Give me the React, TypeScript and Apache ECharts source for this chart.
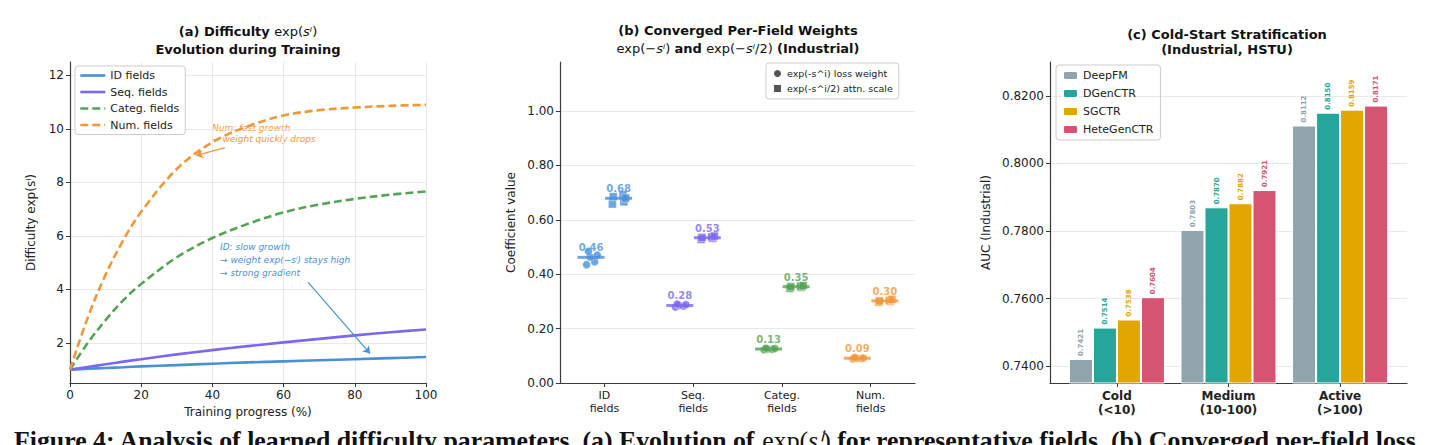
import React, { useEffect, useRef } from 'react';
import * as echarts from 'echarts';

// ---------- Panel (a) data ----------
const progress = [0, 5, 10, 15, 20, 30, 40, 50, 60, 70, 80, 90, 100];
const idDifficulty = [1.0, 1.03, 1.06, 1.09, 1.12, 1.17, 1.22, 1.27, 1.31, 1.35, 1.39, 1.43, 1.47];
const seqDifficulty = [1.0, 1.1, 1.2, 1.3, 1.39, 1.57, 1.73, 1.88, 2.02, 2.15, 2.28, 2.4, 2.5];
const categDifficulty = [1.0, 2.0, 2.85, 3.6, 4.2, 5.2, 5.92, 6.45, 6.88, 7.17, 7.38, 7.54, 7.66];
const numDifficulty = [1.0, 2.95, 4.55, 5.85, 6.9, 8.5, 9.5, 10.1, 10.5, 10.7, 10.8, 10.86, 10.9];
const difficultyTicks = [2, 4, 6, 8, 10, 12];

// ---------- Panel (b) data ----------
const fieldLabels = ['ID\nfields', 'Seq.\nfields', 'Categ.\nfields', 'Num.\nfields'];
const lossWeightMeans = [0.462, 0.285, 0.125, 0.091];
const attnScaleMeans = [0.679, 0.534, 0.354, 0.302];
const lossWeightSeeds = [
  [0.435, 0.446, 0.463, 0.47, 0.484],
  [0.279, 0.283, 0.286, 0.288, 0.29],
  [0.122, 0.124, 0.125, 0.127, 0.128],
  [0.088, 0.09, 0.091, 0.092, 0.094],
];
const attnScaleSeeds = [
  [0.658, 0.666, 0.685, 0.692, 0.68],
  [0.528, 0.532, 0.535, 0.537, 0.54],
  [0.348, 0.352, 0.354, 0.356, 0.358],
  [0.297, 0.3, 0.302, 0.304, 0.307],
];
const circleJitter = [-0.05, 0.04, -0.01, 0.07, -0.03];
const squareJitter = [-0.07, 0.06, -0.06, 0.05, 0.08];
const coefTicks = [0, 0.2, 0.4, 0.6, 0.8, 1.0];

// ---------- Panel (c) data ----------
const userGroups = ['Cold\n(<10)', 'Medium\n(10-100)', 'Active\n(>100)'];
const deepfmAuc = [0.7421, 0.7803, 0.8112];
const dgenctrAuc = [0.7514, 0.787, 0.815];
const sgctrAuc = [0.7538, 0.7882, 0.8159];
const heteAuc = [0.7604, 0.7921, 0.8171];
const aucTicks = [0.74, 0.76, 0.78, 0.8, 0.82];

const C_ID = '#4a90d9';
const C_SEQ = '#7b68ee';
const C_CAT = '#55a355';
const C_NUM = '#f0973a';
const fieldColors = [C_ID, C_SEQ, C_CAT, C_NUM];
const barColors = ['#90a4ae', '#26a69a', '#e2a600', '#d45472'];

const FONT = '"DejaVu Sans", sans-serif';
const SERIF = '"Liberation Serif", serif';
const AXIS_COLOR = '#3a3a3a';
const GRID_COLOR = '#e6e6e6';

function App() {
  const ref = useRef<HTMLDivElement>(null);
  useEffect(() => {
    if (!ref.current) return;
    const chart = echarts.init(ref.current, undefined, { renderer: 'svg' });

    const axisCommon = {
      axisLine: { show: true, onZero: false, lineStyle: { color: AXIS_COLOR, width: 1.2 } },
      axisTick: { show: true, length: 4, lineStyle: { color: AXIS_COLOR, width: 1 } },
      axisLabel: { color: '#222', fontSize: 12, fontFamily: FONT, margin: 6 },
      nameTextStyle: { color: '#222', fontSize: 12, fontFamily: FONT },
      nameLocation: 'middle' as const,
    };

    const xy = (xs: number[], ys: number[]) => xs.map((x, i) => [x, ys[i]]);

    const lineSeries = (name: string, data: number[], color: string, dashed: boolean, extra: any = {}) => ({
      type: 'line',
      name,
      xAxisIndex: 0,
      yAxisIndex: 0,
      data: xy(progress, data),
      smooth: 0.35,
      showSymbol: false,
      symbol: 'none',
      lineStyle: { color, width: 2.6, type: dashed ? [8, 4] : 'solid' },
      itemStyle: { color },
      ...extra,
    });

    const circleData: any[] = [];
    const squareData: any[] = [];
    lossWeightSeeds.forEach((seeds, i) =>
      seeds.forEach((v, k) =>
        circleData.push({ value: [i - 0.15 + circleJitter[k], v], itemStyle: { color: fieldColors[i] } })
      )
    );
    attnScaleSeeds.forEach((seeds, i) =>
      seeds.forEach((v, k) =>
        squareData.push({ value: [i + 0.16 + squareJitter[k], v], itemStyle: { color: fieldColors[i] } })
      )
    );
    const meanData = [
      ...lossWeightMeans.map((v, i) => ({
        value: [i - 0.15, v],
        itemStyle: { color: fieldColors[i] },
        label: { color: fieldColors[i] },
      })),
      ...attnScaleMeans.map((v, i) => ({
        value: [i + 0.16, v],
        itemStyle: { color: fieldColors[i] },
        label: { color: fieldColors[i] },
      })),
    ];

    const barSeries = (name: string, data: number[], color: string) => ({
      type: 'bar',
      name,
      xAxisIndex: 2,
      yAxisIndex: 2,
      data: data.map((v, i) => [i, v]),
      barWidth: 24,
      barGap: '0%',
      itemStyle: { color, borderColor: '#ffffff', borderWidth: 1 },
      label: {
        show: true,
        position: 'top',
        rotate: 90,
        align: 'left',
        verticalAlign: 'middle',
        distance: 3,
        fontSize: 7,
        fontWeight: 'bold',
        fontFamily: FONT,
        color,
        formatter: (p: any) => p.value[1].toFixed(4),
      },
    });

    const titleRich = {
      b: { fontSize: 13, fontWeight: 'bold', fontFamily: FONT, color: '#111' },
      m: { fontSize: 13, fontFamily: FONT, color: '#111' },
      mi: { fontSize: 13, fontStyle: 'italic', fontFamily: FONT, color: '#111' },
    };
    const titleText = (x: number, y: number, text: string) => ({
      type: 'text',
      x,
      y,
      style: { text, align: 'center', verticalAlign: 'middle', rich: titleRich, fill: '#111', font: `bold 13px ${FONT}` },
    });

    const option: any = {
      animation: false,
      backgroundColor: '#ffffff',
      textStyle: { fontFamily: FONT },
      grid: [
        { left: 70, top: 62, width: 356, height: 321, containLabel: false },
        { left: 560, top: 62, width: 355, height: 321, containLabel: false },
        { left: 1050, top: 62, width: 357, height: 321, containLabel: false },
      ],
      xAxis: [
        {
          ...axisCommon,
          gridIndex: 0,
          type: 'value',
          min: 0,
          max: 100,
          interval: 20,
          name: 'Training progress (%)',
          nameGap: 23,
          splitLine: { show: true, lineStyle: { color: GRID_COLOR, width: 0.9 } },
        },
        {
          ...axisCommon,
          gridIndex: 1,
          type: 'value',
          min: -0.5,
          max: 3.5,
          axisTick: { ...axisCommon.axisTick, customValues: [0, 1, 2, 3] },
          axisLabel: {
            ...axisCommon.axisLabel,
            fontSize: 11,
            lineHeight: 13,
            customValues: [0, 1, 2, 3],
            formatter: (v: number) => fieldLabels[Math.round(v)],
          },
          splitLine: { show: false },
        },
        {
          ...axisCommon,
          gridIndex: 2,
          type: 'value',
          min: -0.6,
          max: 2.6,
          axisTick: { ...axisCommon.axisTick, customValues: [0, 1, 2] },
          axisLabel: {
            ...axisCommon.axisLabel,
            fontWeight: 'bold',
            fontSize: 12,
            lineHeight: 14,
            customValues: [0, 1, 2],
            formatter: (v: number) => userGroups[Math.round(v)],
          },
          splitLine: { show: false },
        },
      ],
      yAxis: [
        {
          ...axisCommon,
          gridIndex: 0,
          type: 'value',
          min: 0.5,
          max: 12.5,
          name: 'Difficulty exp(sⁱ)',
          nameGap: 33,
          nameRotate: 90,
          axisTick: { ...axisCommon.axisTick, customValues: difficultyTicks },
          axisLabel: { ...axisCommon.axisLabel, customValues: difficultyTicks },
          splitLine: { show: true, lineStyle: { color: GRID_COLOR, width: 0.9 } },
        },
        {
          ...axisCommon,
          gridIndex: 1,
          type: 'value',
          min: 0,
          max: 1.18,
          name: 'Coefficient value',
          nameGap: 43,
          nameRotate: 90,
          axisTick: { ...axisCommon.axisTick, customValues: coefTicks },
          axisLabel: {
            ...axisCommon.axisLabel,
            customValues: coefTicks,
            formatter: (v: number) => v.toFixed(2),
          },
          splitLine: { show: true, lineStyle: { color: GRID_COLOR, width: 0.9 } },
        },
        {
          ...axisCommon,
          gridIndex: 2,
          type: 'value',
          min: 0.735,
          max: 0.83,
          name: 'AUC (Industrial)',
          nameGap: 58,
          nameRotate: 90,
          axisTick: { ...axisCommon.axisTick, customValues: aucTicks },
          axisLabel: {
            ...axisCommon.axisLabel,
            customValues: aucTicks,
            formatter: (v: number) => v.toFixed(4),
          },
          splitLine: { show: true, lineStyle: { color: GRID_COLOR, width: 0.9 } },
        },
      ],
      legend: [
        {
          orient: 'vertical',
          left: 75,
          top: 66,
          itemWidth: 25,
          itemHeight: 12,
          itemGap: 5.5,
          padding: [4, 6, 4, 4],
          borderColor: '#cccccc',
          borderWidth: 1,
          borderRadius: 3,
          backgroundColor: 'rgba(255,255,255,0.85)',
          itemStyle: { opacity: 0, borderWidth: 0 },
          lineStyle: { width: 2.6, opacity: 1 },
          textStyle: { fontSize: 11, color: '#222', fontFamily: FONT },
          data: ['ID fields', 'Seq. fields', 'Categ. fields', 'Num. fields'],
        },
        {
          orient: 'vertical',
          left: 766,
          top: 63,
          itemWidth: 9,
          itemHeight: 9,
          itemGap: 4,
          padding: [5, 6, 5, 6],
          borderColor: '#cccccc',
          borderWidth: 1,
          borderRadius: 3,
          textStyle: { fontSize: 9.5, color: '#222', fontFamily: FONT },
          data: [
            { name: 'exp(-s^i) loss weight', icon: 'circle', itemStyle: { color: '#555555', opacity: 1 } },
            { name: 'exp(-s^i/2) attn. scale', icon: 'rect', itemStyle: { color: '#555555', opacity: 1 } },
          ],
        },
        {
          orient: 'vertical',
          left: 1056,
          top: 65,
          itemWidth: 15,
          itemHeight: 9,
          itemGap: 7,
          padding: [5, 7, 5, 6],
          borderColor: '#cccccc',
          borderWidth: 1,
          borderRadius: 3,
          textStyle: { fontSize: 11, color: '#222', fontFamily: FONT },
          data: ['DeepFM', 'DGenCTR', 'SGCTR', 'HeteGenCTR'],
        },
      ],
      series: [
        lineSeries('ID fields', idDifficulty, C_ID, false, {
          markLine: {
            silent: true,
            symbol: ['none', 'arrow'],
            symbolSize: 7,
            label: { show: false },
            lineStyle: { color: C_ID, width: 1.2, type: 'solid' },
            data: [[{ coord: [66.9, 4.26] }, { coord: [84.3, 1.6] }]],
          },
        }),
        lineSeries('Seq. fields', seqDifficulty, C_SEQ, false),
        lineSeries('Categ. fields', categDifficulty, C_CAT, true),
        lineSeries('Num. fields', numDifficulty, C_NUM, true, {
          markLine: {
            silent: true,
            symbol: ['none', 'arrow'],
            symbolSize: 7,
            label: { show: false },
            lineStyle: { color: C_NUM, width: 1.2, type: 'solid' },
            data: [[{ coord: [43.5, 9.3] }, { coord: [35.4, 9.0] }]],
          },
        }),
        {
          type: 'scatter',
          name: 'exp(-s^i) loss weight',
          xAxisIndex: 1,
          yAxisIndex: 1,
          symbol: 'circle',
          symbolSize: 8,
          itemStyle: { opacity: 0.8, borderColor: '#ffffff', borderWidth: 0.5 },
          data: circleData,
        },
        {
          type: 'scatter',
          name: 'exp(-s^i/2) attn. scale',
          xAxisIndex: 1,
          yAxisIndex: 1,
          symbol: 'rect',
          symbolSize: 8,
          itemStyle: { opacity: 0.8, borderColor: '#ffffff', borderWidth: 0.5 },
          data: squareData,
        },
        {
          type: 'scatter',
          name: 'means',
          xAxisIndex: 1,
          yAxisIndex: 1,
          symbol: 'rect',
          symbolSize: [27, 3],
          z: 5,
          data: meanData,
          label: {
            show: true,
            position: 'top',
            distance: 3,
            fontSize: 10,
            fontWeight: 'bold',
            fontFamily: FONT,
            formatter: (p: any) => p.value[1].toFixed(2),
          },
        },
        barSeries('DeepFM', deepfmAuc, barColors[0]),
        barSeries('DGenCTR', dgenctrAuc, barColors[1]),
        barSeries('SGCTR', sgctrAuc, barColors[2]),
        barSeries('HeteGenCTR', heteAuc, barColors[3]),
      ],
      graphic: [
        titleText(248, 31, '{b|(a) Difficulty }{m|exp(}{mi|sⁱ}{m|)}'),
        titleText(248, 49, '{b|Evolution during Training}'),
        titleText(738, 30, '{b|(b) Converged Per-Field Weights}'),
        titleText(738, 48, '{m|exp(−}{mi|sⁱ}{m|) }{b|and }{m|exp(−}{mi|sⁱ}{m|/2) }{b|(Industrial)}'),
        titleText(1227, 34, '{b|(c) Cold-Start Stratification}'),
        titleText(1227, 49, '{b|(Industrial, HSTU)}'),
        {
          type: 'text',
          x: 212,
          y: 122,
          style: {
            text: 'Num: fast growth\n→ weight quickly drops',
            fill: C_NUM,
            font: `italic 9px ${FONT}`,
            lineHeight: 11.5,
            align: 'left',
            verticalAlign: 'top',
          },
        },
        {
          type: 'text',
          x: 220,
          y: 240,
          style: {
            text: 'ID: slow growth\n→ weight exp(−sⁱ) stays high\n→ strong gradient',
            fill: C_ID,
            font: `italic 9px ${FONT}`,
            lineHeight: 13,
            align: 'left',
            verticalAlign: 'top',
          },
        },
        {
          type: 'text',
          x: 14,
          y: 427,
          style: {
            text: '{cb|Figure 4: Analysis of learned difficulty parameters. (a) Evolution of }{cm|exp(}{cmi|sⁱ}{cm|)}{cb| for representative fields. (b) Converged per-field loss}',
            align: 'left',
            verticalAlign: 'top',
            font: `bold 25.8px ${SERIF}`,
            fill: '#111',
            rich: {
              cb: { fontSize: 25.8, fontWeight: 'bold', fontFamily: SERIF, color: '#111' },
              cm: { fontSize: 25.8, fontFamily: SERIF, color: '#111' },
              cmi: { fontSize: 25.8, fontStyle: 'italic', fontFamily: SERIF, color: '#111' },
            },
          },
        },
      ],
    };

    chart.setOption(option);
    return () => chart.dispose();
  }, []);

  return (
    <div
      ref={ref}
      style={{ position: 'absolute', left: 0, top: 0, width: 1430, height: 445, background: '#fff' }}
    />
  );
}

export default App;
